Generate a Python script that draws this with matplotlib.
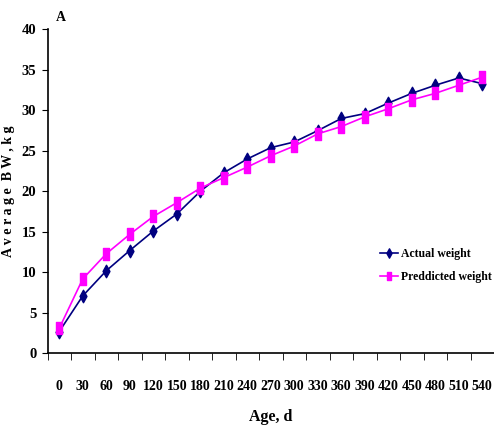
import matplotlib.pyplot as plt
import numpy as np
from matplotlib.path import Path

ages = ['0', '30', '60', '90', '120', '150', '180', '210', '240', '270',
        '300', '330', '360', '390', '420', '450', '480', '510', '540']
actual = [2.7, 7.1, 10.2, 12.7, 15.1, 17.2, 20.0, 22.3, 24.0, 25.4,
          26.1, 27.5, 29.0, 29.6, 30.9, 32.1, 33.1, 34.0, 33.3]
predicted = [3.1, 9.2, 12.3, 14.7, 16.9, 18.6, 20.4, 21.7, 23.0, 24.4,
             25.6, 27.1, 28.0, 29.2, 30.2, 31.3, 32.1, 33.1, 34.1]

plt.rcParams['font.family'] = 'Liberation Serif'
plt.rcParams['font.weight'] = 'bold'
plt.rcParams['axes.labelweight'] = 'bold'

# tall, narrow markers like the original
diamond = Path([(0, 1), (0.55, 0), (0, -1), (-0.55, 0), (0, 1)],
               [Path.MOVETO, Path.LINETO, Path.LINETO, Path.LINETO, Path.CLOSEPOLY])
square = Path([(-0.5, -1), (0.5, -1), (0.5, 1), (-0.5, 1), (-0.5, -1)],
              [Path.MOVETO, Path.LINETO, Path.LINETO, Path.LINETO, Path.CLOSEPOLY])

fig = plt.figure(figsize=(4.94, 4.32), dpi=100)
ax = fig.add_axes([0.0962, 0.182, 0.9038, 0.75])

x = np.arange(len(ages))
ax.plot(x, actual, color='#000080', lw=1.2, marker=diamond, ms=9,
        label='Actual weight')
ax.plot(x, predicted, color='#FF00FF', lw=1.2, marker=square, ms=8.5,
        label='Preddicted weight')

ax.set_xlim(-0.5, len(ages) - 0.5)
ax.set_ylim(0, 40)
ax.set_yticks(range(0, 41, 5))
ax.set_xticks(x)
ax.set_xticklabels(ages)
ax.set_xticks(np.arange(-0.5, len(ages), 1), minor=True)
ax.tick_params(axis='x', which='major', length=0, pad=19, labelsize=10)
ax.tick_params(axis='x', which='minor', length=5, direction='out')
ax.tick_params(axis='y', length=4, labelsize=10.5, pad=4)

for s in ['top', 'right']:
    ax.spines[s].set_visible(False)
for s in ['left', 'bottom']:
    ax.spines[s].set_linewidth(1.2)

ax.set_ylabel('A v e r a g e  B W , k g', fontsize=10)
ax.yaxis.set_label_coords(-0.073, 0.5)
ax.set_xlabel('Age, d', fontsize=11.5, labelpad=12)

ax.legend(loc='upper left', bbox_to_anchor=(0.745, 0.325), frameon=False,
          fontsize=8.5, handlelength=1.5, handletextpad=0.3, labelspacing=0.9,
          borderaxespad=0, borderpad=0, markerscale=0.75)

fig.text(0.113, 0.975, 'A', fontsize=10, va='top')

fig.savefig('out.png', dpi=100)
